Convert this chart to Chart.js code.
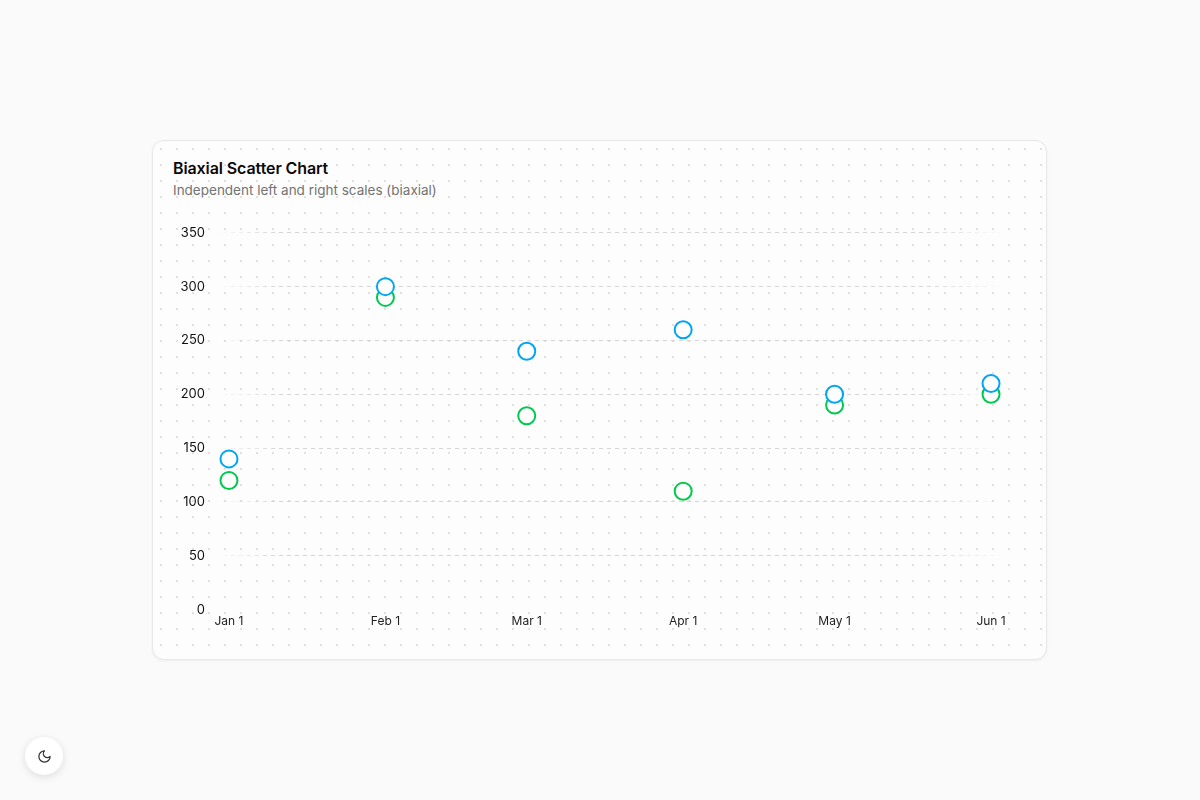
<!DOCTYPE html>
<html>
<head>
<meta charset="utf-8">
<script src="https://cdn.jsdelivr.net/npm/chart.js@4"></script>
<style>
  html, body { margin: 0; padding: 0; }
  body { width: 1200px; height: 800px; background: #fafafa; font-family: Inter, "Noto Sans", sans-serif; position: relative; overflow: hidden; }
  .card {
    position: absolute; left: 152px; top: 140px; width: 893px; height: 518px;
    background-color: #fdfdfd;
    background-image: radial-gradient(circle, #e0e0e0 1px, transparent 1.2px);
    background-size: 16px 16px;
    background-position: 0 0;
    border: 1px solid #e8e8e8; border-radius: 12px;
    box-shadow: 0 1px 3px rgba(0,0,0,0.05);
  }
  .title { position: absolute; left: 20px; top: 17px; font-size: 16px; font-weight: 600; color: #0a0a0a; letter-spacing: -0.1px; }
  .subtitle { position: absolute; left: 20px; top: 41px; font-size: 13.5px; color: #737373; }
  .wrap { position: absolute; left: 20px; top: 74px; width: 854px; height: 419px; }
  .btn {
    position: absolute; left: 25px; top: 737px; width: 38px; height: 38px; border-radius: 50%;
    background: #fff; box-shadow: 0 2px 8px rgba(0,0,0,0.12); display: flex; align-items: center; justify-content: center;
  }
</style>
</head>
<body>
<div class="card">
  <div class="title">Biaxial Scatter Chart</div>
  <div class="subtitle">Independent left and right scales (biaxial)</div>
  <div class="wrap"><canvas id="c"></canvas></div>
</div>
<div class="btn">
  <svg width="15" height="15" viewBox="0 0 24 24" fill="none" stroke="#333" stroke-width="2" stroke-linecap="round" stroke-linejoin="round"><path d="M12 3a6 6 0 0 0 9 9 9 9 0 1 1-9-9Z"/></svg>
</div>
<script>
const dates = ["2025-01-01", "2025-02-01", "2025-03-01", "2025-04-01", "2025-05-01", "2025-06-01"];
const tickLabels = ["Jan 1", "Feb 1", "Mar 1", "Apr 1", "May 1", "Jun 1"];
const leftSeries = [140, 300, 240, 260, 200, 210];
const rightSeries = [120, 290, 180, 110, 190, 200];
const yTicks = [0, 50, 100, 150, 200, 250, 300, 350];

const DAY = 86400000;
const xs = dates.map(d => Date.parse(d + "T00:00:00Z"));
const leftPts = xs.map((x, i) => ({ x, y: leftSeries[i] }));
const rightPts = xs.map((x, i) => ({ x, y: rightSeries[i] }));

function gridColor(ctx) {
  if (ctx.tick && ctx.tick.value === 0) return 'rgba(0,0,0,0)';
  const chart = ctx.chart;
  const a = chart.chartArea;
  if (!a) return '#e0e0e0';
  const g = chart.ctx.createLinearGradient(a.left, 0, a.right, 0);
  g.addColorStop(0, 'rgba(214,214,214,0)');
  g.addColorStop(0.08, 'rgba(214,214,214,1)');
  g.addColorStop(0.9, 'rgba(214,214,214,1)');
  g.addColorStop(1, 'rgba(214,214,214,0)');
  return g;
}

new Chart(document.getElementById('c'), {
  type: 'scatter',
  data: {
    datasets: [
      { label: 'Left', data: leftPts, yAxisID: 'y', borderColor: '#00a6f4', backgroundColor: '#ffffff', pointRadius: 8.5, pointHoverRadius: 8.5, borderWidth: 2 },
      { label: 'Right', data: rightPts, yAxisID: 'y1', borderColor: '#00c950', backgroundColor: '#ffffff', pointRadius: 8.5, pointHoverRadius: 8.5, borderWidth: 2 }
    ]
  },
  options: {
    responsive: true,
    maintainAspectRatio: false,
    animation: false,
    layout: { padding: { top: 0, right: 22, bottom: 0, left: 0 } },
    plugins: { legend: { display: false }, tooltip: { enabled: false } },
    scales: {
      x: {
        type: 'linear',
        min: xs[0] - 2.77 * DAY,
        max: xs[xs.length - 1] + 2.77 * DAY,
        afterBuildTicks: s => { s.ticks = xs.map(v => ({ value: v })); },
        ticks: {
          callback: (v, i) => tickLabels[i],
          color: '#222', font: { family: 'Inter', size: 12 }, padding: 5, maxRotation: 0, autoSkip: false
        },
        grid: { display: false, drawTicks: false },
        border: { display: false }
      },
      y: {
        position: 'left',
        min: 0, max: 350,
        afterBuildTicks: s => { s.ticks = yTicks.map(v => ({ value: v })); },
        afterFit: s => { s.width = 42; },
        ticks: { color: '#111', font: { family: 'Inter', size: 13 }, padding: 10 },
        grid: { color: gridColor, drawTicks: false, lineWidth: 1 },
        border: { display: false, dash: [4, 4] }
      },
      y1: {
        position: 'right',
        display: false,
        min: 0, max: 350,
        grid: { display: false }
      }
    }
  }
});
</script>
</body>
</html>
